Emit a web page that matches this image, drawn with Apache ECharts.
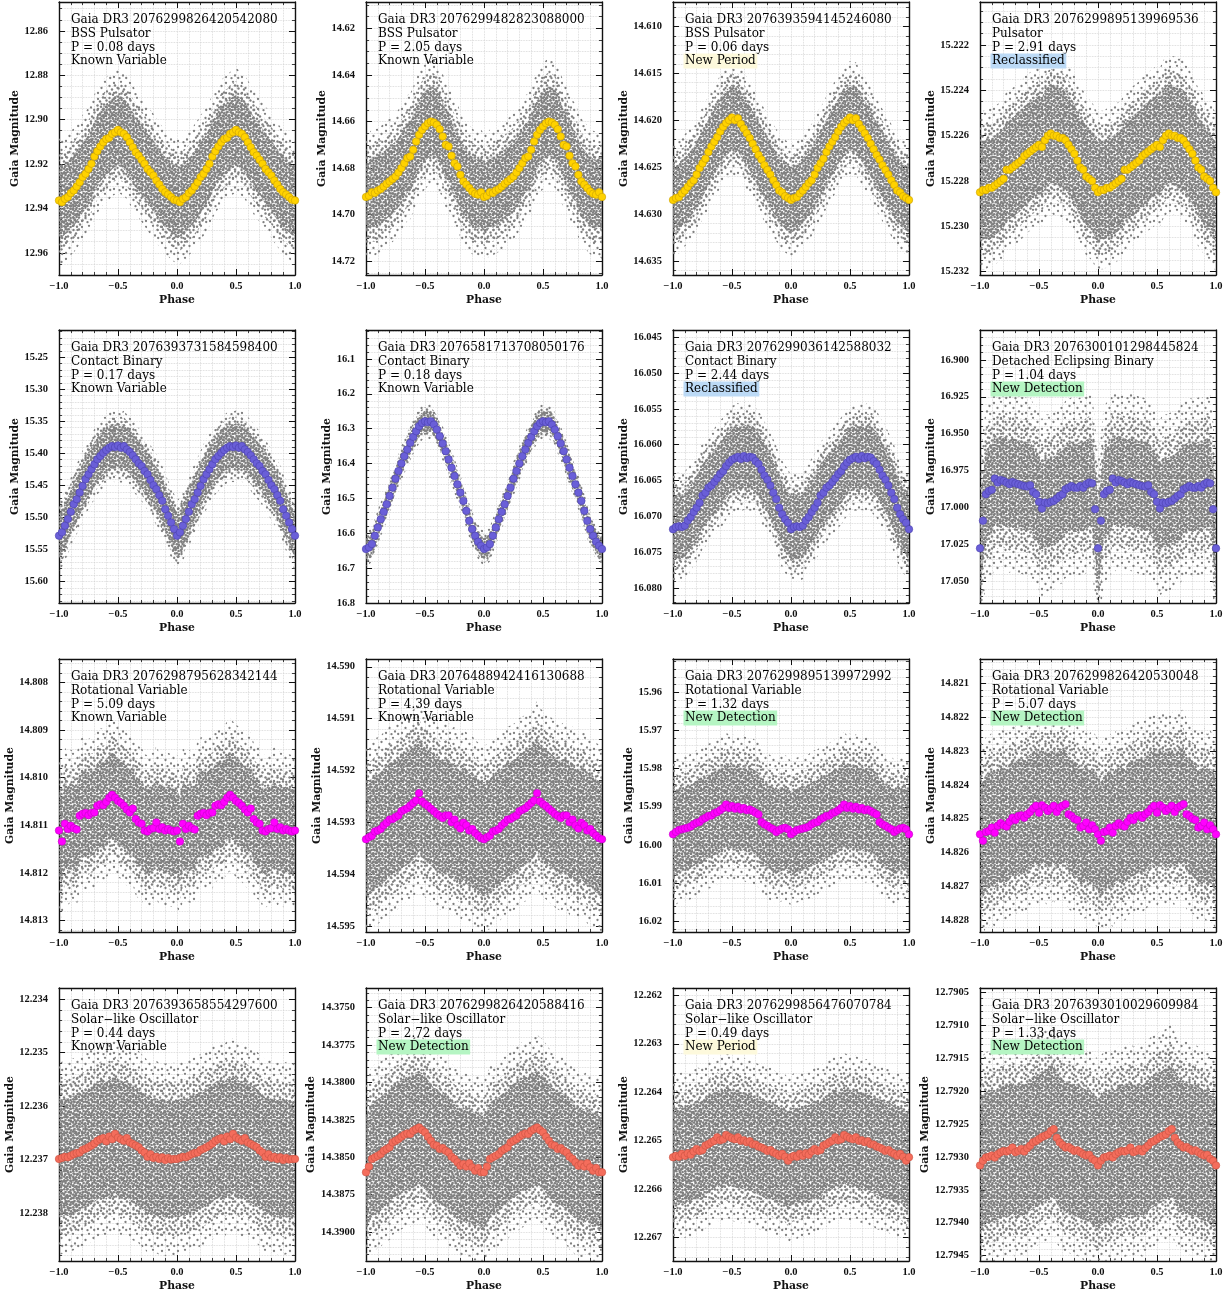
<!DOCTYPE html>
<html>
<head>
<meta charset="utf-8">
<script src="https://cdn.jsdelivr.net/npm/echarts@6/dist/echarts.min.js"></script>
<style>
html, body { margin: 0; padding: 0; background: #fff; }
#lc { width: 1225px; height: 1295px; }
</style>
</head>
<body>
<div id="lc"></div>
<script>
// phase bins of one cycle (the second cycle is the same bins shifted by -1)
var phaseBins = [0, 0.025, 0.05, 0.075, 0.1, 0.125, 0.15, 0.175, 0.2, 0.225,
  0.25, 0.275, 0.3, 0.325, 0.35, 0.375, 0.4, 0.425, 0.45, 0.475,
  0.5, 0.525, 0.55, 0.575, 0.6, 0.625, 0.65, 0.675, 0.7, 0.725,
  0.75, 0.775, 0.8, 0.825, 0.85, 0.875, 0.9, 0.925, 0.95, 0.975];

var starIds = ['2076299826420542080', '2076299482823088000', '2076393594145246080', '2076299895139969536',
  '2076393731584598400', '2076581713708050176', '2076299036142588032', '2076300101298445824',
  '2076298795628342144', '2076488942416130688', '2076299895139972992', '2076299826420530048',
  '2076393658554297600', '2076299826420588416', '2076299856476070784', '2076393010029609984'];
var starTypes = ['BSS Pulsator', 'BSS Pulsator', 'BSS Pulsator', 'Pulsator',
  'Contact Binary', 'Contact Binary', 'Contact Binary', 'Detached Eclipsing Binary',
  'Rotational Variable', 'Rotational Variable', 'Rotational Variable', 'Rotational Variable',
  'Solar\u2212like Oscillator', 'Solar\u2212like Oscillator', 'Solar\u2212like Oscillator', 'Solar\u2212like Oscillator'];
var periods = ['0.08', '2.05', '0.06', '2.91', '0.17', '0.18', '2.44', '1.04',
  '5.09', '4.39', '1.32', '5.07', '0.44', '2.72', '0.49', '1.33'];
var flags = ['Known Variable', 'Known Variable', 'New Period', 'Reclassified',
  'Known Variable', 'Known Variable', 'Reclassified', 'New Detection',
  'Known Variable', 'Known Variable', 'New Detection', 'New Detection',
  'Known Variable', 'New Detection', 'New Period', 'New Detection'];

// axis ranges (magnitudes, drawn inverted)
var yLow = [12.847, 14.6087, 14.6074, 15.2201, 15.2076, 16.0171, 16.044, 16.8798,
  14.80751, 14.58985, 15.9513, 14.82029, 12.23379, 14.37368, 12.26185, 12.79044];
var yHigh = [12.970, 14.7259, 14.6365, 15.23215, 15.6335, 16.8, 16.0821, 17.0646,
  14.81324, 14.59512, 16.0228, 14.82834, 12.2389, 14.39193, 12.26748, 12.79458];
var yTicks = [
  ['12.86', '12.88', '12.90', '12.92', '12.94', '12.96'],
  ['14.62', '14.64', '14.66', '14.68', '14.70', '14.72'],
  ['14.610', '14.615', '14.620', '14.625', '14.630', '14.635'],
  ['15.222', '15.224', '15.226', '15.228', '15.230', '15.232'],
  ['15.25', '15.30', '15.35', '15.40', '15.45', '15.50', '15.55', '15.60'],
  ['16.1', '16.2', '16.3', '16.4', '16.5', '16.6', '16.7', '16.8'],
  ['16.045', '16.050', '16.055', '16.060', '16.065', '16.070', '16.075', '16.080'],
  ['16.900', '16.925', '16.950', '16.975', '17.000', '17.025', '17.050'],
  ['14.808', '14.809', '14.810', '14.811', '14.812', '14.813'],
  ['14.590', '14.591', '14.592', '14.593', '14.594', '14.595'],
  ['15.96', '15.97', '15.98', '15.99', '16.00', '16.01', '16.02'],
  ['14.821', '14.822', '14.823', '14.824', '14.825', '14.826', '14.827', '14.828'],
  ['12.234', '12.235', '12.236', '12.237', '12.238'],
  ['14.3750', '14.3775', '14.3800', '14.3825', '14.3850', '14.3875', '14.3900'],
  ['12.262', '12.263', '12.264', '12.265', '12.266', '12.267'],
  ['12.7905', '12.7910', '12.7915', '12.7920', '12.7925', '12.7930', '12.7935', '12.7940', '12.7945']
];
var minorDivs = [4, 4, 5, 4, 5, 5, 5, 5, 5, 5, 5, 5, 5, 5, 5, 5];

// binned magnitudes per panel, one value per phase bin
var mag01 = [12.9364, 12.9372, 12.9357, 12.9349, 12.9331, 12.9319, 12.9301, 12.9282, 12.9259, 12.9244, 12.9222, 12.9199, 12.9166, 12.9142, 12.9121, 12.9102, 12.9087, 12.9082, 12.9064, 12.9057, 12.9046, 12.9057, 12.9064, 12.9079, 12.9102, 12.9124, 12.9147, 12.9162, 12.9181, 12.9199, 12.9222, 12.9237, 12.9252, 12.9274, 12.9292, 12.9312, 12.9327, 12.9337, 12.9349, 12.9361];
var mag02 = [14.6924, 14.6919, 14.6904, 14.6907, 14.6896, 14.6890, 14.6879, 14.6867, 14.6857, 14.6847, 14.6836, 14.6819, 14.6800, 14.6779, 14.6757, 14.6750, 14.6721, 14.6686, 14.6657, 14.6636, 14.6621, 14.6607, 14.6600, 14.6604, 14.6614, 14.6633, 14.6664, 14.6700, 14.6707, 14.6747, 14.6779, 14.6793, 14.6829, 14.6857, 14.6871, 14.6886, 14.6900, 14.6910, 14.6914, 14.6904];
var mag03 = [14.6285, 14.6283, 14.6282, 14.6278, 14.6275, 14.6271, 14.6267, 14.6264, 14.6258, 14.6251, 14.6246, 14.6241, 14.6234, 14.6228, 14.6223, 14.6218, 14.6212, 14.6207, 14.6203, 14.6200, 14.6197, 14.6200, 14.6198, 14.6204, 14.6209, 14.6214, 14.6219, 14.6225, 14.6231, 14.6237, 14.6242, 14.6248, 14.6253, 14.6258, 14.6264, 14.6269, 14.6275, 14.6277, 14.6281, 14.6283];
var mag04 = [15.2285, 15.2284, 15.2284, 15.2283, 15.2283, 15.2282, 15.2281, 15.2280, 15.2279, 15.2275, 15.2275, 15.2274, 15.2273, 15.2272, 15.2271, 15.2269, 15.2268, 15.2267, 15.2266, 15.2265, 15.2264, 15.2265, 15.2262, 15.2260, 15.2259, 15.2260, 15.2260, 15.2261, 15.2261, 15.2262, 15.2264, 15.2266, 15.2268, 15.2271, 15.2274, 15.2275, 15.2278, 15.2279, 15.2280, 15.2283];
var mag05 = [15.5285, 15.5233, 15.5129, 15.5026, 15.4912, 15.4793, 15.4715, 15.4612, 15.4508, 15.4405, 15.4327, 15.4249, 15.4172, 15.4094, 15.4042, 15.3991, 15.3949, 15.3913, 15.3887, 15.3903, 15.3877, 15.3913, 15.3887, 15.3939, 15.3980, 15.4032, 15.4094, 15.4156, 15.4198, 15.4275, 15.4327, 15.4415, 15.4498, 15.4560, 15.4653, 15.4741, 15.4871, 15.4974, 15.5078, 15.5181];
var mag06 = [16.6452, 16.6404, 16.6309, 16.6071, 16.5833, 16.5596, 16.5386, 16.5167, 16.4930, 16.4692, 16.4435, 16.4216, 16.3997, 16.3788, 16.3598, 16.3407, 16.3236, 16.3074, 16.2932, 16.2836, 16.2789, 16.2817, 16.2789, 16.2884, 16.3027, 16.3217, 16.3426, 16.3645, 16.3883, 16.4121, 16.4359, 16.4597, 16.4834, 16.5072, 16.5358, 16.5643, 16.5881, 16.6071, 16.6243, 16.6356];
var mag07 = [16.0718, 16.0715, 16.0714, 16.0715, 16.0713, 16.0706, 16.0701, 16.0694, 16.0688, 16.0681, 16.0671, 16.0667, 16.0660, 16.0657, 16.0652, 16.0647, 16.0641, 16.0637, 16.0630, 16.0625, 16.0621, 16.0619, 16.0617, 16.0620, 16.0616, 16.0619, 16.0617, 16.0618, 16.0623, 16.0627, 16.0635, 16.0643, 16.0649, 16.0657, 16.0667, 16.0676, 16.0688, 16.0697, 16.0704, 16.0709];
var mag08 = [17.0276, 17.0089, 16.9910, 16.9887, 16.9880, 16.9804, 16.9831, 16.9813, 16.9820, 16.9831, 16.9842, 16.9827, 16.9836, 16.9842, 16.9849, 16.9854, 16.9858, 16.9849, 16.9894, 16.9910, 16.9961, 17.0006, 16.9966, 16.9970, 16.9961, 16.9955, 16.9939, 16.9921, 16.9910, 16.9876, 16.9865, 16.9854, 16.9865, 16.9865, 16.9854, 16.9865, 16.9842, 16.9831, 16.9836, 17.0011];
var mag09 = [14.81111, 14.81134, 14.81097, 14.81108, 14.81101, 14.81106, 14.81109, 14.81080, 14.81076, 14.81074, 14.81079, 14.81074, 14.81073, 14.81059, 14.81056, 14.81058, 14.81051, 14.81042, 14.81036, 14.81042, 14.81049, 14.81053, 14.81059, 14.81067, 14.81073, 14.81065, 14.81087, 14.81094, 14.81097, 14.81111, 14.81113, 14.81108, 14.81106, 14.81094, 14.81108, 14.81104, 14.81111, 14.81108, 14.81111, 14.81113];
var mag10 = [14.59333, 14.59329, 14.59326, 14.59318, 14.59316, 14.59313, 14.59306, 14.59301, 14.59295, 14.59294, 14.59290, 14.59287, 14.59279, 14.59276, 14.59273, 14.59268, 14.59263, 14.59258, 14.59244, 14.59260, 14.59265, 14.59269, 14.59274, 14.59279, 14.59284, 14.59288, 14.59292, 14.59287, 14.59287, 14.59300, 14.59295, 14.59306, 14.59312, 14.59301, 14.59306, 14.59316, 14.59313, 14.59321, 14.59326, 14.59331];
var mag11 = [15.9972, 15.9966, 15.9961, 15.9959, 15.9957, 15.9955, 15.9952, 15.9946, 15.9942, 15.9940, 15.9933, 15.9929, 15.9924, 15.9923, 15.9917, 15.9914, 15.9909, 15.9903, 15.9894, 15.9903, 15.9898, 15.9905, 15.9900, 15.9907, 15.9903, 15.9909, 15.9907, 15.9911, 15.9916, 15.9920, 15.9940, 15.9946, 15.9950, 15.9955, 15.9959, 15.9966, 15.9961, 15.9957, 15.9955, 15.9959];
var mag12 = [14.82546, 14.82565, 14.82539, 14.82536, 14.82526, 14.82541, 14.82521, 14.82513, 14.82519, 14.82523, 14.82509, 14.82497, 14.82504, 14.82492, 14.82490, 14.82497, 14.82487, 14.82480, 14.82470, 14.82462, 14.82482, 14.82460, 14.82467, 14.82477, 14.82470, 14.82462, 14.82480, 14.82467, 14.82462, 14.82457, 14.82487, 14.82492, 14.82500, 14.82504, 14.82526, 14.82521, 14.82511, 14.82531, 14.82519, 14.82531];
var mag13 = [12.23699, 12.23697, 12.23695, 12.23696, 12.23693, 12.23690, 12.23688, 12.23687, 12.23682, 12.23680, 12.23677, 12.23674, 12.23670, 12.23665, 12.23662, 12.23660, 12.23666, 12.23657, 12.23662, 12.23652, 12.23659, 12.23662, 12.23665, 12.23660, 12.23668, 12.23671, 12.23674, 12.23677, 12.23683, 12.23687, 12.23695, 12.23690, 12.23697, 12.23695, 12.23699, 12.23696, 12.23701, 12.23697, 12.23700, 12.23699];
var mag14 = [14.38600, 14.38562, 14.38511, 14.38500, 14.38489, 14.38478, 14.38456, 14.38444, 14.38433, 14.38400, 14.38389, 14.38378, 14.38362, 14.38349, 14.38340, 14.38344, 14.38322, 14.38311, 14.38300, 14.38318, 14.38333, 14.38362, 14.38389, 14.38416, 14.38422, 14.38444, 14.38438, 14.38456, 14.38467, 14.38496, 14.38511, 14.38533, 14.38556, 14.38544, 14.38562, 14.38540, 14.38567, 14.38589, 14.38571, 14.38600];
var mag15 = [12.26534, 12.26531, 12.26533, 12.26527, 12.26531, 12.26526, 12.26529, 12.26522, 12.26517, 12.26521, 12.26519, 12.26510, 12.26507, 12.26503, 12.26500, 12.26493, 12.26499, 12.26497, 12.26488, 12.26492, 12.26495, 12.26497, 12.26493, 12.26500, 12.26499, 12.26503, 12.26501, 12.26507, 12.26508, 12.26512, 12.26514, 12.26517, 12.26521, 12.26519, 12.26524, 12.26527, 12.26531, 12.26527, 12.26533, 12.26541];
var mag16 = [12.79313, 12.79306, 12.79301, 12.79300, 12.79298, 12.79301, 12.79296, 12.79293, 12.79291, 12.79292, 12.79290, 12.79286, 12.79293, 12.79291, 12.79288, 12.79292, 12.79287, 12.79283, 12.79278, 12.79276, 12.79273, 12.79270, 12.79268, 12.79266, 12.79261, 12.79258, 12.79271, 12.79278, 12.79282, 12.79286, 12.79285, 12.79288, 12.79291, 12.79290, 12.79293, 12.79296, 12.79298, 12.79297, 12.79303, 12.79306];

// scatter of the raw epochs around the bins: dense core and sparse halo half-widths (mag)
var coreSpread = [0.016, 0.015, 0.0035, 0.0022, 0.035, 0.03, 0.0045, 0.03, 0.0009, 0.0011, 0.011, 0.0017, 0.0011, 0.0038, 0.0010, 0.0010];
var haloSpread = [0.028, 0.027, 0.006, 0.0035, 0.055, 0.05, 0.0075, 0.06, 0.0016, 0.0018, 0.019, 0.0028, 0.0018, 0.0062, 0.0017, 0.0016];

var mags = [mag01, mag02, mag03, mag04, mag05, mag06, mag07, mag08,
  mag09, mag10, mag11, mag12, mag13, mag14, mag15, mag16];

var typeColors = {
  'BSS Pulsator': ['#ffd200', '#c9a000'],
  'Pulsator': ['#ffd200', '#c9a000'],
  'Contact Binary': ['#6a5fd8', '#4a3fae'],
  'Detached Eclipsing Binary': ['#6a5fd8', '#4a3fae'],
  'Rotational Variable': ['#ff00ff', '#c400c4'],
  'Solar\u2212like Oscillator': ['#f46d5c', '#c9503f']
};
var flagColors = { 'New Period': '#fdf9dc', 'Reclassified': '#bcdaf6', 'New Detection': '#b5f5c3' };

var plotLeft = [59, 366, 673, 980];
var plotTop = [2, 330, 659, 988];
var plotW = 236, plotH = 273;
var serif = 'DejaVu Serif';
var ink = '#111';

function dotTile(size, rad, dots) {
  var c = document.createElement('canvas');
  c.width = size; c.height = size;
  var g = c.getContext('2d');
  g.fillStyle = '#808080';
  dots.forEach(function (d) {
    g.beginPath();
    g.arc(d[0], d[1], rad, 0, Math.PI * 2);
    g.fill();
  });
  return c;
}
// hand-placed dot textures for the raw-epoch cloud
var coreFill = { image: dotTile(9, 1.3, [[1.3, 1.3], [4.6, 1.0], [7.6, 2.0], [2.6, 4.0], [5.8, 4.2],
  [8.2, 5.4], [1.2, 6.6], [4.2, 7.2], [7.0, 7.9], [2.8, 8.6]]), repeat: 'repeat' };
var midFill = { image: dotTile(12, 1.2, [[1.5, 2], [7, 1.5], [10.5, 4.5], [4, 5.5], [8, 8.5], [1.5, 9.5], [5, 10.8]]), repeat: 'repeat' };
var haloFill = { image: dotTile(16, 1.15, [[2, 3], [9, 1.8], [13.5, 6], [5.5, 8], [11, 11.5], [2, 13], [7.5, 14.2], [14.2, 14]]), repeat: 'repeat' };

var lineStyle = { color: ink, width: 1.4 };
var gridDots = { color: '#d2d2d2', type: 'dotted', width: 0.8 };
var tickFont = { fontFamily: 'Liberation Serif', fontWeight: 'bold', fontSize: 10.5, color: ink };
var nameFont = { fontFamily: serif, fontWeight: 'bold', fontSize: 10.8, color: ink };

var grids = [], xAxes = [], yAxes = [], series = [], texts = [];

for (var i = 0; i < 16; i++) {
  (function (i) {
    var r = Math.floor(i / 4), c = i % 4;
    var m = mags[i];
    var labels = yTicks[i];
    var majors = labels.map(Number);
    var step = majors[1] - majors[0];
    var sub = step / minorDivs[i];
    var minors = [];
    var kLo = Math.ceil((yLow[i] - majors[0]) / sub - 1e-6);
    var kHi = Math.floor((yHigh[i] - majors[0]) / sub + 1e-6);
    for (var k = kLo; k <= kHi; k++) {
      if (((k % minorDivs[i]) + minorDivs[i]) % minorDivs[i] !== 0) {
        minors.push(majors[0] + k * sub);
      }
    }

    grids.push({ left: plotLeft[c], top: plotTop[r], width: plotW, height: plotH, outerBoundsMode: 'none' });

    xAxes.push({
      gridIndex: i, type: 'value', min: -1, max: 1, interval: 0.5, position: 'bottom',
      name: 'Phase', nameLocation: 'middle', nameGap: 20, nameTextStyle: nameFont,
      axisLine: { show: true, onZero: false, lineStyle: lineStyle },
      axisTick: { show: true, inside: true, length: 6, lineStyle: { color: ink, width: 1 } },
      minorTick: { show: true, splitNumber: 5, length: 3, lineStyle: { color: ink, width: 0.8 } },
      axisLabel: Object.assign({ margin: 6, formatter: function (v) {
        return (v < 0 ? '\u2212' : '') + Math.abs(v).toFixed(1);
      } }, tickFont),
      splitLine: { show: true, lineStyle: gridDots },
      minorSplitLine: { show: true, lineStyle: gridDots }
    });
    xAxes.push({
      gridIndex: i, type: 'value', min: -1, max: 1, interval: 0.5, position: 'top',
      axisLine: { show: true, onZero: false, lineStyle: lineStyle },
      axisTick: { show: true, inside: true, length: 6, lineStyle: { color: ink, width: 1 } },
      minorTick: { show: true, splitNumber: 5, length: 3, lineStyle: { color: ink, width: 0.8 } },
      axisLabel: { show: false },
      splitLine: { show: false }
    });

    var fmt = function (v) {
      for (var j = 0; j < labels.length; j++) {
        if (Math.abs(majors[j] - v) < step * 1e-3) return labels[j];
      }
      return '';
    };
    var yBase = { gridIndex: i, type: 'value', inverse: true, min: yLow[i], max: yHigh[i] };
    yAxes.push(Object.assign({}, yBase, {
      position: 'left',
      name: 'Gaia Magnitude', nameLocation: 'middle', nameRotate: 90, nameTextStyle: nameFont,
      nameGap: 38 + (labels[0].length - 5) * 5.5,
      axisLine: { show: true, onZero: false, lineStyle: lineStyle },
      axisTick: { show: true, inside: true, length: 6, customValues: majors, lineStyle: { color: ink, width: 1 } },
      axisLabel: Object.assign({ margin: 11, customValues: majors, formatter: fmt }, tickFont),
      splitLine: { show: true, lineStyle: gridDots }
    }));
    yAxes.push(Object.assign({}, yBase, {
      position: 'left',
      axisLine: { show: false, onZero: false },
      axisTick: { show: true, inside: true, length: 3, customValues: minors, lineStyle: { color: ink, width: 0.8 } },
      axisLabel: { show: false },
      splitLine: { show: true, lineStyle: gridDots }
    }));
    yAxes.push(Object.assign({}, yBase, {
      position: 'right',
      axisLine: { show: true, onZero: false, lineStyle: lineStyle },
      axisTick: { show: true, inside: true, length: 6, customValues: majors, lineStyle: { color: ink, width: 1 } },
      axisLabel: { show: false },
      splitLine: { show: false }
    }));
    yAxes.push(Object.assign({}, yBase, {
      position: 'right',
      axisLine: { show: false, onZero: false },
      axisTick: { show: true, inside: true, length: 3, customValues: minors, lineStyle: { color: ink, width: 0.8 } },
      axisLabel: { show: false },
      splitLine: { show: false }
    }));

    // two folded cycles of the binned curve
    var bx = [], bm = [];
    phaseBins.forEach(function (p, k) { bx.push(p - 1); bm.push(m[k]); });
    phaseBins.forEach(function (p, k) { bx.push(p); bm.push(m[k]); });
    bx.push(1); bm.push(m[0]);
    var pts = bx.map(function (x, k) { return [x, bm[k]]; });

    var band = function (api, w) {
      var up = [], lo = [];
      for (var k = 0; k < bx.length; k++) {
        up.push(api.coord([bx[k], bm[k] - w]));
        lo.push(api.coord([bx[k], bm[k] + w]));
      }
      return up.concat(lo.reverse());
    };

    series.push({
      type: 'custom', xAxisIndex: 2 * i, yAxisIndex: 4 * i, silent: true, clip: true, z: 1,
      data: pts,
      renderItem: function (params, api) {
        if (params.dataIndex !== 0) return null;
        var h = haloSpread[i], cs = coreSpread[i];
        return {
          type: 'group',
          children: [
            { type: 'polygon', shape: { points: band(api, h) }, style: { fill: haloFill } },
            { type: 'polygon', shape: { points: band(api, (h + cs) / 2) }, style: { fill: midFill } },
            { type: 'polygon', shape: { points: band(api, cs) }, style: { fill: coreFill } }
          ]
        };
      }
    });
    var col = typeColors[starTypes[i]];
    series.push({
      type: 'scatter', xAxisIndex: 2 * i, yAxisIndex: 4 * i, silent: true, clip: true, z: 3,
      symbol: 'circle', symbolSize: 7.5,
      itemStyle: { color: col[0], borderColor: col[1], borderWidth: 0.6, opacity: 1 },
      data: pts
    });

    var tx = plotLeft[c] + 12, ty = plotTop[r] + 18.3;
    var lines = ['Gaia DR3 ' + starIds[i], starTypes[i], 'P = ' + periods[i] + ' days'];
    lines.forEach(function (t, k) {
      texts.push({ type: 'text', x: tx, y: ty + k * 13.6, z: 100,
        style: { text: t, font: '12px "DejaVu Serif"', fill: '#000', verticalAlign: 'middle' } });
    });
    var fl = flags[i];
    if (flagColors[fl]) {
      texts.push({ type: 'text', x: tx - 1.5, y: ty + 3 * 13.6, z: 100,
        style: { text: fl, font: '12px "DejaVu Serif"', fill: '#000', verticalAlign: 'middle',
          backgroundColor: flagColors[fl], padding: [2, 1.5, 1, 1.5] } });
    } else {
      texts.push({ type: 'text', x: tx, y: ty + 3 * 13.6, z: 100,
        style: { text: fl, font: '12px "DejaVu Serif"', fill: '#000', verticalAlign: 'middle' } });
    }
  })(i);
}

var chart = echarts.init(document.getElementById('lc'), null, { renderer: 'canvas' });
chart.setOption({
  animation: false,
  backgroundColor: '#ffffff',
  grid: grids,
  xAxis: xAxes,
  yAxis: yAxes,
  series: series,
  graphic: texts
});
</script>
</body>
</html>
